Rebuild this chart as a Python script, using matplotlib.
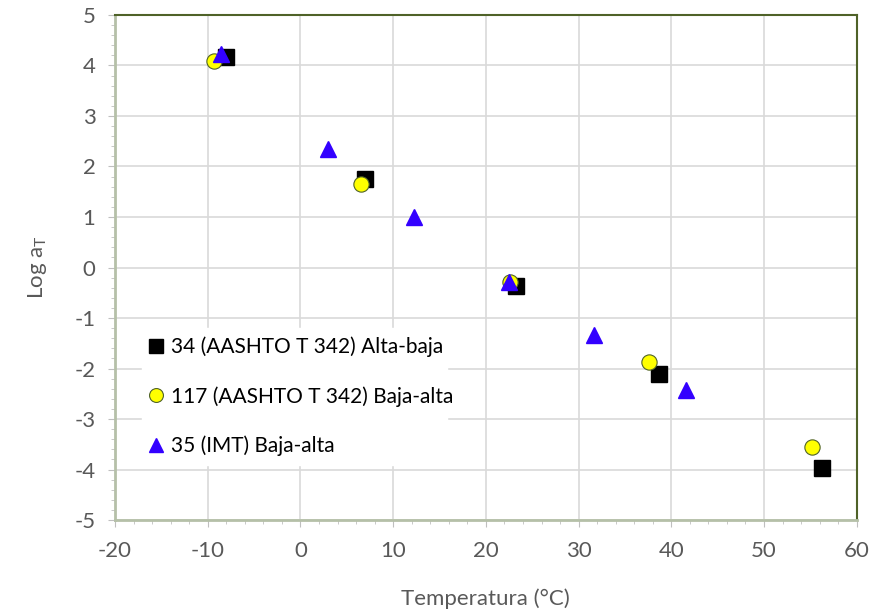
import matplotlib.pyplot as plt
from matplotlib.ticker import MultipleLocator

# -----------------------------
# Data
# -----------------------------
temp_34 = [-8.0, 7.0, 23.2, 38.7, 56.3]
log_34 = [4.16, 1.76, -0.37, -2.11, -3.96]

temp_117 = [-9.3, 6.5, 22.6, 37.6, 55.2]
log_117 = [4.09, 1.66, -0.28, -1.87, -3.56]

temp_35 = [-8.6, 3.0, 12.2, 22.5, 31.7, 41.6]
log_35 = [4.22, 2.34, 1.00, -0.28, -1.34, -2.43]

labels = ["34 (AASHTO T 342) Alta-baja",
          "117 (AASHTO T 342) Baja-alta",
          "35 (IMT) Baja-alta"]

plt.rcParams['font.family'] = ['Lato', 'DejaVu Sans']
plt.rcParams['axes.unicode_minus'] = False
grey = "#595959"

fig = plt.figure(figsize=(8.76, 6.09), dpi=100)
ax = fig.add_axes([0.1313, 0.1461, 0.8467, 0.8293])

ax.plot(temp_34, log_34, linestyle="none", marker="s", markersize=11,
        color="black", label=labels[0], zorder=3)
ax.plot(temp_117, log_117, linestyle="none", marker="o", markersize=11,
        markerfacecolor="#ffff00", markeredgecolor="#4f6228", markeredgewidth=0.8,
        label=labels[1], zorder=4)
ax.plot(temp_35, log_35, linestyle="none", marker="^", markersize=12,
        color="#3300ff", label=labels[2], zorder=5)

ax.set_xlim(-20, 60)
ax.set_ylim(-5, 5)
ax.xaxis.set_major_locator(MultipleLocator(10))
ax.xaxis.set_minor_locator(MultipleLocator(2))
ax.yaxis.set_major_locator(MultipleLocator(1))
ax.yaxis.set_minor_locator(MultipleLocator(0.2))

ax.grid(True, which="major", color="#d9d9d9", linewidth=1.2)
ax.set_axisbelow(True)

ax.tick_params(which="both", direction="out", colors="#bfbfbf", labelcolor=grey,
               labelsize=16)
ax.tick_params(axis="x", which="major", length=5, pad=10)
ax.tick_params(axis="y", which="major", length=5, pad=9)
ax.tick_params(which="minor", length=3)

for s in ["top", "right"]:
    ax.spines[s].set_color("#4f6228")
    ax.spines[s].set_linewidth(1.5)
for s in ["left", "bottom"]:
    ax.spines[s].set_color("#b5c0a8")
    ax.spines[s].set_linewidth(2)

ax.set_xlabel("Temperatura (°C)", fontsize=16, color=grey, labelpad=20)
ax.set_ylabel("Log a$_\\mathregular{T}$", fontsize=16, color=grey, labelpad=18)

leg = ax.legend(loc="lower left", bbox_to_anchor=(0.022, 0.089, 0.44, 0.31),
                mode="expand", frameon=True, fancybox=False, fontsize=15,
                handlelength=0.6, handletextpad=0.4, labelspacing=1.4,
                borderpad=0.4, labelcolor="black")
leg.get_frame().set_edgecolor("white")
leg.get_frame().set_facecolor("white")
leg.get_frame().set_alpha(1)
for h in leg.legend_handles:
    h.set_markersize(10)

fig.savefig("out.png", dpi=100)
